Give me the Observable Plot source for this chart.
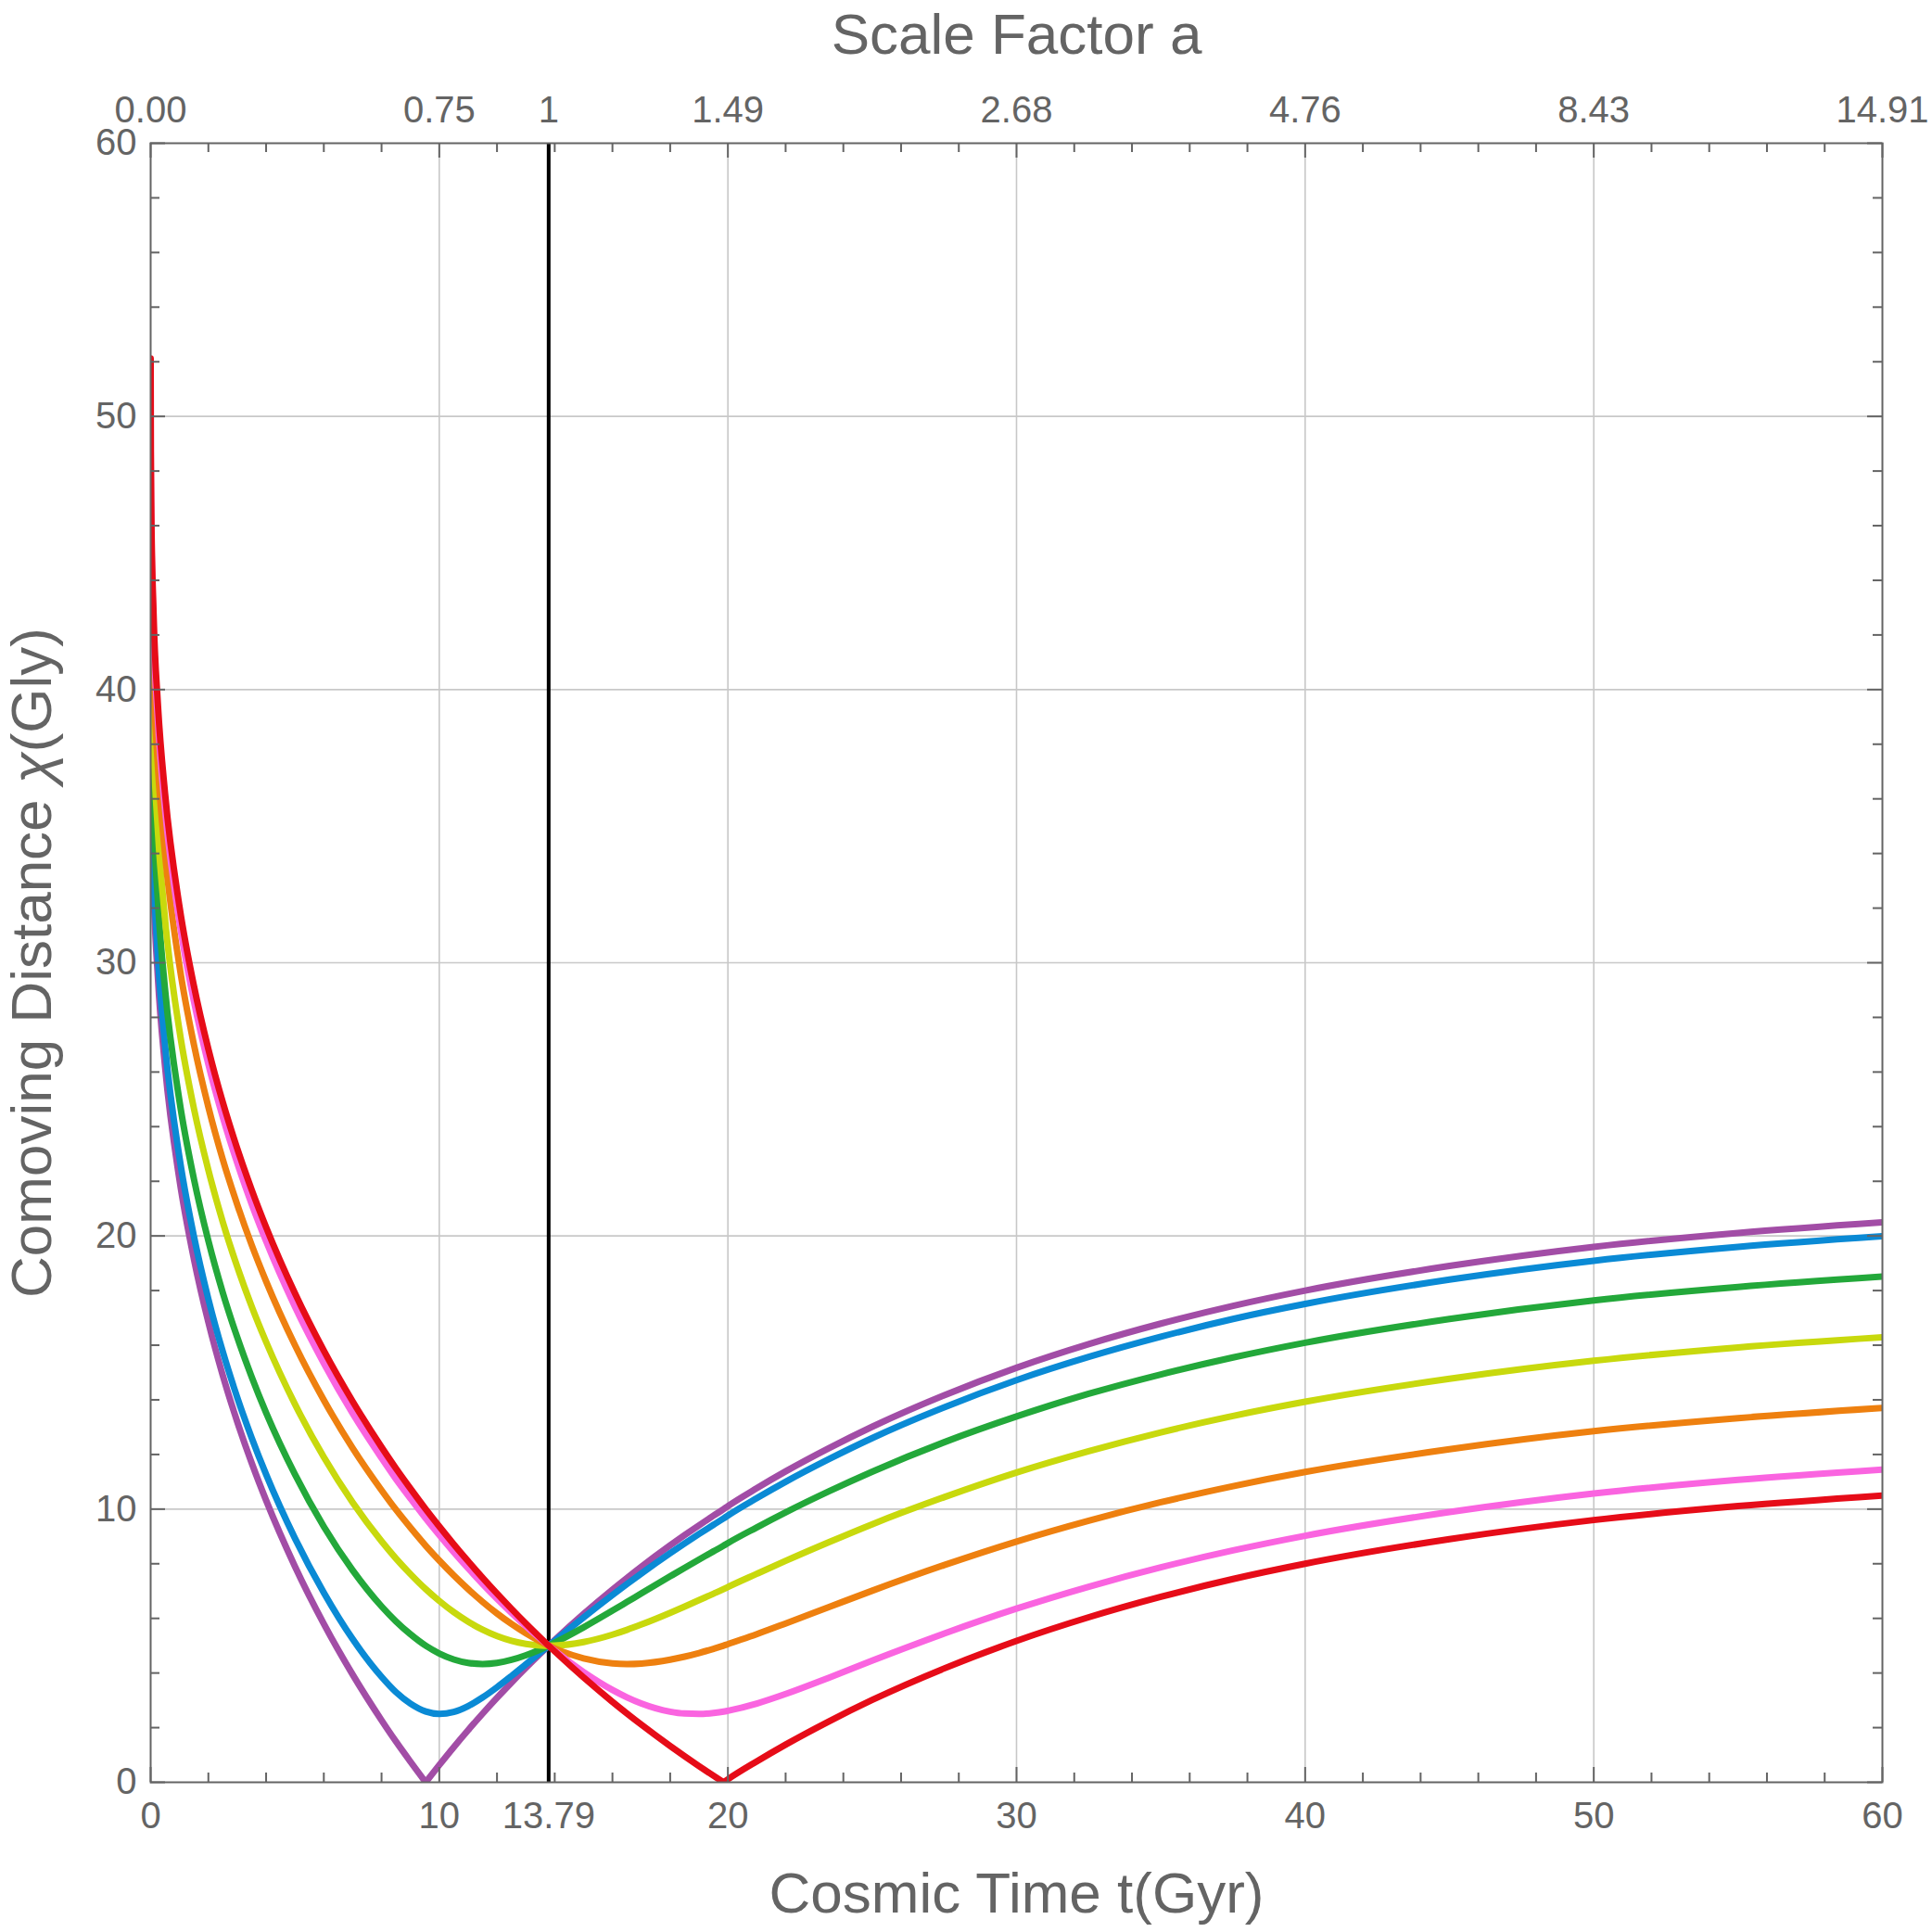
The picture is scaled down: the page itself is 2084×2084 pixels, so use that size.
<!DOCTYPE html>
<html>
<head>
<meta charset="utf-8">
<script src="https://cdn.jsdelivr.net/npm/d3@7"></script>
<script src="https://cdn.jsdelivr.net/npm/@observablehq/plot@0.6"></script>
<style>
html,body{margin:0;padding:0;background:#fff;}
#chart{width:2084px;height:2084px;}
</style>
</head>
<body>
<div id="chart"></div>
<script>
// Cosmic time (Gyr) at which the curves were read
const tGyr = [0,0.005,0.02,0.1,0.25,0.5,1,1.5,2,2.5,3,3.5,4,5,6,7,8,8.5,9,9.53,10,10.5,11,11.5,12,12.5,13,13.5,13.79,14,15,16,16.5,17,18,18.5,19,19.5,19.85,20,21,22,23.5,25,27.5,30,32.5,35,37.5,40,45,50,55,60];

// Comoving distance chi (Gly) for each curve
const chiPurple = [42.12,38.70,36.68,32.81,29.48,26.19,22.05,19.15,16.84,14.89,13.20,11.69,10.32,7.90,5.80,3.94,2.27,1.49,0.755,0,0.632,1.284,1.909,2.511,3.091,3.649,4.188,4.707,5,5.209,6.163,7.054,7.478,7.889,8.672,9.046,9.408,9.759,10.0,10.11,10.765,11.38,12.23,13.015,14.17,15.175,16.04,16.79,17.44,18.00,18.90,19.60,20.11,20.50];
const chiBlue = [42.86,39.45,37.43,33.57,30.25,26.98,22.86,19.98,17.69,15.76,14.09,12.61,11.27,8.93,6.94,5.24,3.86,3.30,2.88,2.59,2.50,2.575,2.79,3.105,3.48,3.89,4.316,4.749,5,5.18,6.035,6.856,7.253,7.640,8.383,8.741,9.089,9.427,9.659,9.765,10.40,11.00,11.83,12.60,13.73,14.72,15.57,16.31,16.96,17.51,18.40,19.09,19.60,19.99];
const chiGreen = [44.83,41.43,39.42,35.57,32.27,29.02,24.93,22.08,19.82,17.92,16.29,14.84,13.53,11.27,9.36,7.76,6.44,5.89,5.42,5.00,4.716,4.498,4.370,4.330,4.370,4.480,4.648,4.860,5,5.108,5.672,6.284,6.598,6.913,7.539,7.849,8.153,8.453,8.660,8.756,9.330,9.879,10.65,11.37,12.45,13.39,14.22,14.93,15.55,16.09,16.96,17.64,18.13,18.51];
const chiYellow = [47.38,43.99,41.98,38.14,34.84,31.59,27.51,24.66,22.41,20.51,18.87,17.42,16.12,13.84,11.90,10.24,8.823,8.193,7.624,7.071,6.639,6.230,5.878,5.585,5.352,5.179,5.065,5.009,5,5.004,5.134,5.405,5.580,5.775,6.203,6.432,6.666,6.903,7.071,7.149,7.631,8.106,8.790,9.447,10.44,11.34,12.12,12.81,13.41,13.93,14.77,15.43,15.92,16.29];
const chiOrange = [49.81,46.40,44.39,40.54,37.23,33.97,29.87,27.00,24.72,22.80,21.15,19.67,18.34,16.00,13.99,12.23,10.69,9.978,9.322,8.660,8.119,7.576,7.072,6.606,6.180,5.795,5.452,5.153,5,4.899,4.532,4.353,4.330,4.347,4.486,4.598,4.732,4.884,5.0,5.056,5.423,5.814,6.413,7.012,7.952,8.812,9.575,10.25,10.84,11.36,12.19,12.85,13.33,13.70];
const chiPink = [51.51,48.09,46.08,42.21,38.89,35.61,31.48,28.59,26.29,24.35,22.67,21.17,19.81,17.41,15.34,13.50,11.87,11.10,10.39,9.659,9.050,8.426,7.831,7.263,6.721,6.207,5.717,5.256,5,4.820,4.035,3.381,3.111,2.886,2.585,2.516,2.502,2.538,2.588,2.619,2.883,3.233,3.829,4.453,5.448,6.357,7.160,7.868,8.486,9.023,9.891,10.57,11.07,11.45];
const chiRed = [52.12,48.70,46.68,42.81,39.48,36.19,32.05,29.15,26.84,24.89,23.20,21.69,20.32,17.90,15.80,13.94,12.27,11.49,10.755,10.0,9.368,8.716,8.091,7.489,6.909,6.351,5.812,5.293,5,4.791,3.837,2.946,2.522,2.111,1.328,0.954,0.592,0.241,0,0.11,0.765,1.38,2.23,3.015,4.17,5.175,6.04,6.79,7.44,8.00,8.90,9.60,10.11,10.50];

// series keys (ray angle), their colours, and the time of the sharp zero (null = none)
const seriesNames = ["ray 0", "ray 30", "ray 60", "ray 90", "ray 120", "ray 150", "ray 180"];
const seriesValues = [chiPurple, chiBlue, chiGreen, chiYellow, chiOrange, chiPink, chiRed];
const seriesColors = ["#a24da6", "#0a8ad5", "#23a83a", "#c8d90d", "#ee800f", "#fa64e0", "#e60c18"];
const seriesKinkT = [9.53, null, null, null, null, null, 19.85];

// Axes
const tNow = 13.79;
const xTickValues = [0, 10, 13.79, 20, 30, 40, 50, 60];
const xTickLabels = ["0", "10", "13.79", "20", "30", "40", "50", "60"];
const aTickLabels = ["0.00", "0.75", "1", "1.49", "2.68", "4.76", "8.43", "14.91"];
const yTickValues = [0, 10, 20, 30, 40, 50, 60];
const yTickLabels = ["0", "10", "20", "30", "40", "50", "60"];
const xMinorTicks = [2,4,6,8,12,14,16,18,22,24,26,28,32,34,36,38,42,44,46,48,52,54,56,58];
const yMinorTicks = [2,4,6,8,12,14,16,18,22,24,26,28,32,34,36,38,42,44,46,48,52,54,56,58];
const xMajorTicks = [0, 10, 20, 30, 40, 50, 60];
const yMajorTicks = [0, 10, 20, 30, 40, 50, 60];
const xGrid = [10, 20, 30, 40, 50];
const yGrid = [10, 20, 30, 40, 50];
const xTitle = "Cosmic Time t(Gyr)";
const yTitleParts = ["Comoving Distance ", "\u03C7", "(Gly)"];
const yTitle = yTitleParts.join("");
const topTitle = "Scale Factor a";

const rows = [];
seriesNames.forEach((name, k) => {
  const kink = seriesKinkT[k];
  tGyr.forEach((t, i) => {
    const chi = seriesValues[k][i];
    if (kink === null) {
      rows.push({t, chi, series: name, seg: name});
    } else {
      if (t <= kink) rows.push({t, chi, series: name, seg: name + " a"});
      if (t >= kink) rows.push({t, chi, series: name, seg: name + " b"});
    }
  });
});

const W = 2084, H = 2084, mL = 162, mR = 54, mT = 154, mB = 162;
const iw = W - mL - mR, ih = H - mT - mB;
const gray = "#646464";
const minorLen = 10, majorLen = 16;

const chart = Plot.plot({
  width: W, height: H,
  marginLeft: mL, marginRight: mR, marginTop: mT, marginBottom: mB,
  x: {domain: [0, 60], axis: null},
  y: {domain: [0, 60], axis: null},
  color: {type: "ordinal", domain: seriesNames, range: seriesColors},
  style: {fontFamily: "'Liberation Sans', Arial, sans-serif", background: "#fff", overflow: "visible"},
  marks: [
    Plot.ruleX(xGrid, {x: d => d, stroke: "#c8c8c8", strokeWidth: 1.6}),
    Plot.ruleY(yGrid, {y: d => d, stroke: "#c8c8c8", strokeWidth: 1.6}),
    Plot.ruleX([tNow], {x: d => d, stroke: "#000", strokeWidth: 4}),
    Plot.line(rows, {x: "t", y: "chi", z: "seg", stroke: "series", strokeWidth: 7, curve: "monotone-x", clip: true, strokeLinejoin: "round"}),
    // inward ticks: bottom & top
    Plot.ruleX(xMinorTicks, {x: d => d, insetTop: ih - minorLen, stroke: gray, strokeWidth: 2}),
    Plot.ruleX(xMinorTicks, {x: d => d, insetBottom: ih - minorLen, stroke: gray, strokeWidth: 2}),
    Plot.ruleX(xMajorTicks, {x: d => d, insetTop: ih - majorLen, stroke: gray, strokeWidth: 2}),
    Plot.ruleX(xMajorTicks, {x: d => d, insetBottom: ih - majorLen, stroke: gray, strokeWidth: 2}),
    // inward ticks: left & right
    Plot.ruleY(yMinorTicks, {y: d => d, insetRight: iw - minorLen, stroke: gray, strokeWidth: 2}),
    Plot.ruleY(yMinorTicks, {y: d => d, insetLeft: iw - minorLen, stroke: gray, strokeWidth: 2}),
    Plot.ruleY(yMajorTicks, {y: d => d, insetRight: iw - majorLen, stroke: gray, strokeWidth: 2}),
    Plot.ruleY(yMajorTicks, {y: d => d, insetLeft: iw - majorLen, stroke: gray, strokeWidth: 2}),
    Plot.frame({stroke: gray, strokeWidth: 2}),
    // tick labels
    Plot.text(xTickValues, {x: d => d, text: (d, i) => xTickLabels[i], frameAnchor: "bottom", lineAnchor: "top", dy: 21, fontSize: 40, fill: gray}),
    Plot.text(xTickValues, {x: d => d, text: (d, i) => aTickLabels[i], frameAnchor: "top", lineAnchor: "bottom", dy: -23, fontSize: 40, fill: gray}),
    Plot.text(yTickValues, {y: d => d, text: (d, i) => yTickLabels[i], frameAnchor: "left", textAnchor: "end", dx: -15, fontSize: 40, fill: gray}),
    // titles
    Plot.text([xTitle], {text: d => d, frameAnchor: "bottom", lineAnchor: "bottom", textAnchor: "middle", dy: 140, fontSize: 62, fill: gray}),
    Plot.text([topTitle], {text: d => d, frameAnchor: "top", lineAnchor: "bottom", textAnchor: "middle", dy: -97, fontSize: 62, fill: gray}),
    Plot.text([yTitle], {text: d => d, frameAnchor: "left", lineAnchor: "bottom", textAnchor: "middle", rotate: -90, dx: -108, fontSize: 62, fill: gray})
  ]
});

// italicise the chi in the y title (kept as real text)
d3.select(chart).selectAll("text").filter(function() { return this.textContent === yTitle; }).each(function() {
  const el = d3.select(this);
  el.text(null);
  el.append("tspan").text(yTitleParts[0]);
  el.append("tspan").attr("font-style", "italic").text(yTitleParts[1]);
  el.append("tspan").text(yTitleParts[2]);
});

document.getElementById("chart").appendChild(chart);
</script>
</body>
</html>
